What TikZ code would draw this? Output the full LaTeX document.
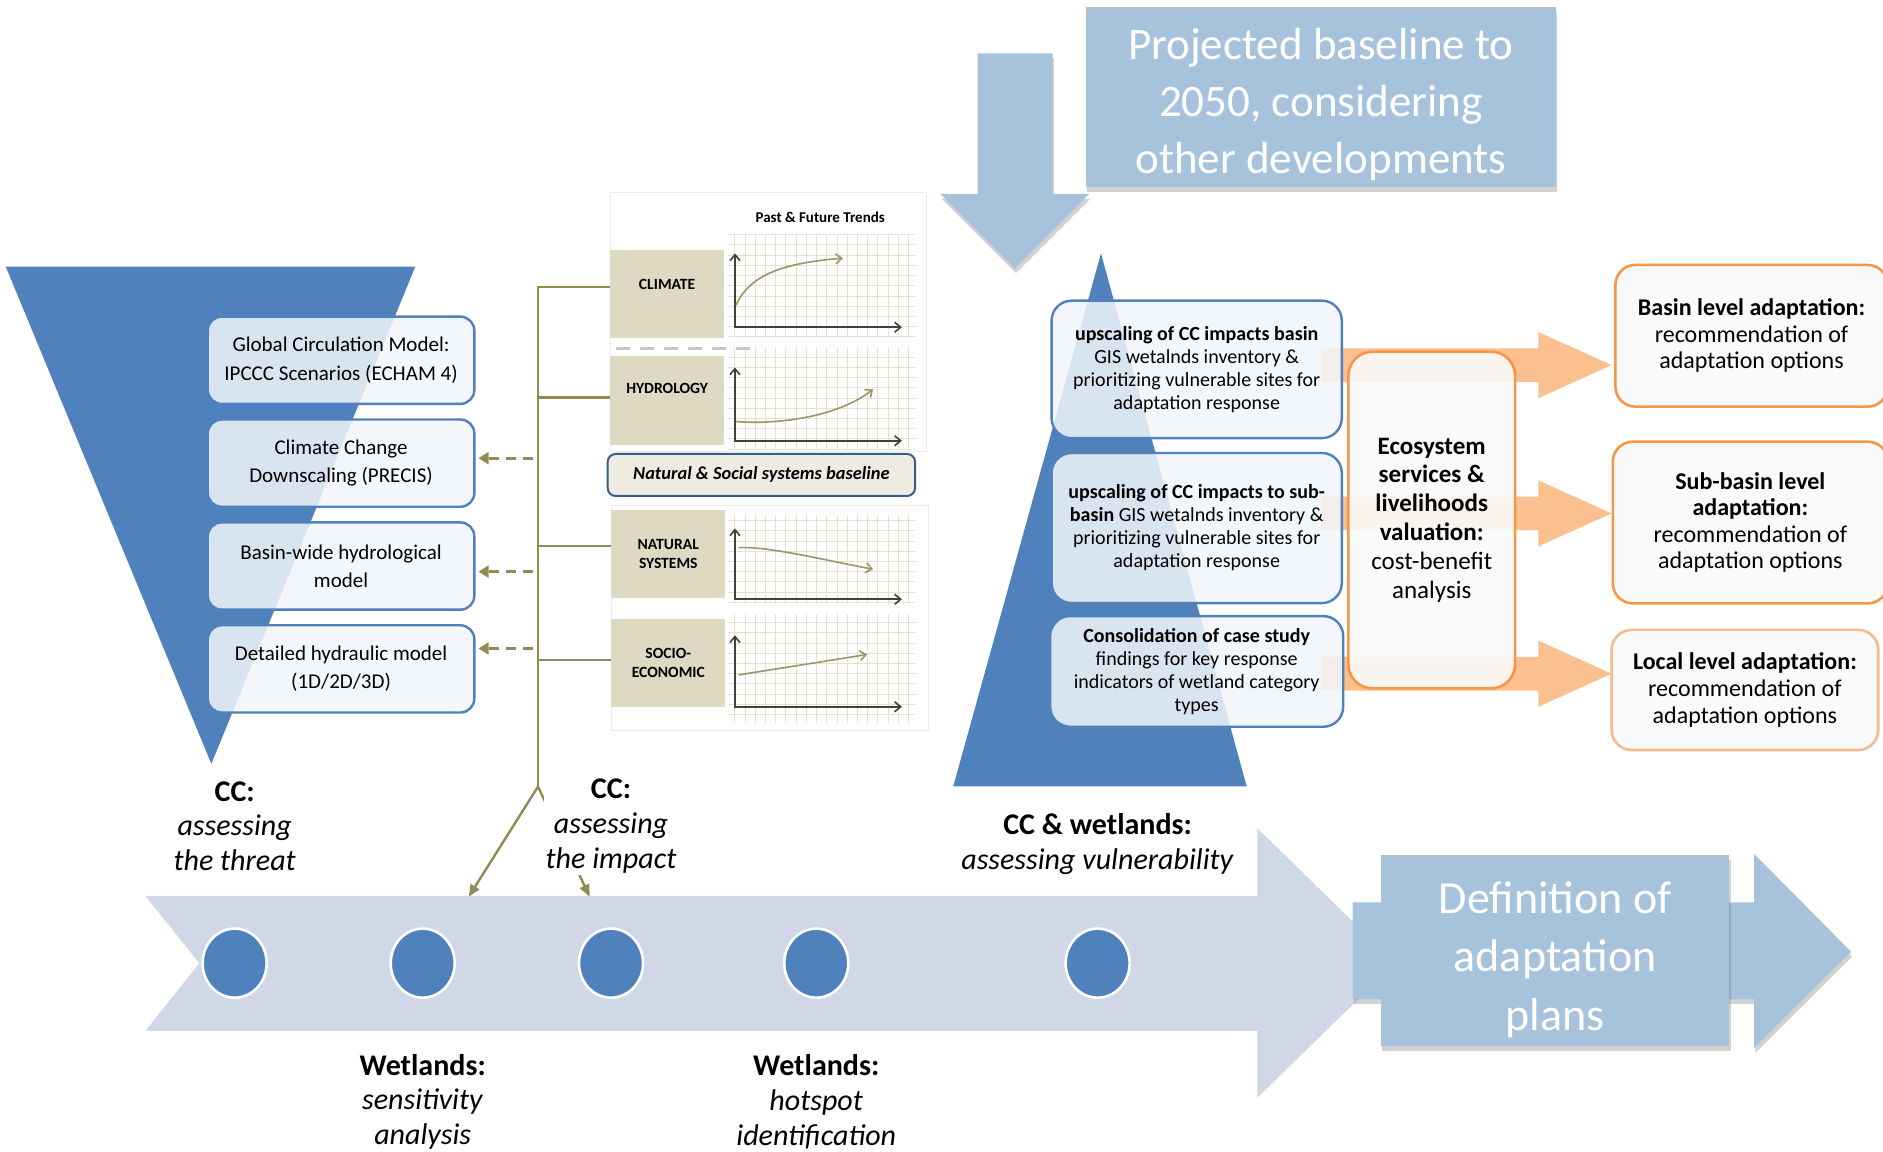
\documentclass[tikz,border=0pt]{standalone}
\usepackage{fontspec}
\setmainfont{Carlito}
\usetikzlibrary{arrows.meta,positioning,shadows,shapes.geometric}

\definecolor{pyramidblue}{HTML}{4F81BD}
\definecolor{arrowblue}{HTML}{A7C3DC}
\definecolor{timelineblue}{HTML}{D0D8E8}
\definecolor{boxtint}{HTML}{F2F6FB}
\definecolor{trendolive}{HTML}{948A54}
\definecolor{curveolive}{HTML}{9C9566}
\definecolor{valueorange}{HTML}{F79646}
\definecolor{lightorange}{HTML}{FAC090}
\definecolor{paleorange}{HTML}{F9B98A}
\definecolor{labelbeige}{HTML}{DDD9C3}
\definecolor{gridbeige}{HTML}{E6E1CF}
\definecolor{bannerbeige}{HTML}{EEECE1}
\definecolor{bannerblue}{HTML}{385D8A}

\begin{document}
\begin{tikzpicture}[x=0.6pt,y=-0.6pt]
\tikzstyle{model} = [draw=pyramidblue, line width=1.2pt, rounded corners=7pt, fill=boxtint, fill opacity=0.85, text opacity=1, minimum width=133.2pt, minimum height=43.6pt, align=center, font=\fontsize{10.5}{14.2}\selectfont]
\tikzstyle{upscale} = [model, minimum width=145pt, rounded corners=10pt, font=\fontsize{10}{11.5}\selectfont]
\tikzstyle{valuation} = [draw=valueorange, line width=1.3pt, rounded corners=12pt, fill=white!98!black, fill opacity=0.9, text opacity=1, align=center, font=\fontsize{12.5}{14.4}\selectfont]
\tikzstyle{adapt} = [valuation, rounded corners=10pt, font=\fontsize{12}{13.3}\selectfont]
\tikzstyle{trendlabel} = [fill=labelbeige, minimum width=57pt, minimum height=44pt, align=center, font=\fontsize{7.8}{9.6}\selectfont\bfseries]
\tikzstyle{stage} = [fill=white, inner sep=1pt, align=center, font=\fontsize{15}{17.4}\selectfont]
\tikzstyle{stagedot} = [ellipse, fill=pyramidblue, draw=white, line width=1.3pt, minimum width=32pt, minimum height=34.5pt]
\tikzstyle{banner} = [fill=arrowblue, drop shadow={shadow xshift=0.6pt, shadow yshift=-2.4pt, opacity=0.35}]
\tikzstyle{bannertext} = [text=white, align=center]
\tikzstyle{trend} = [trendolive, line width=1.2pt]
\tikzstyle{feedback} = [trend, line width=1.4pt, dash pattern=on 5pt off 3.5pt, shorten >=1.5pt, -{Triangle[length=5pt,width=6pt]}]
\tikzstyle{axis} = [black!75, line width=0.8pt, {Straight Barb[length=3pt,width=5pt]}-{Straight Barb[length=3pt,width=5pt]}]
\tikzstyle{curve} = [curveolive, line width=0.8pt, -{Straight Barb[length=3pt,width=5pt]}]

\useasboundingbox (0,0) rectangle (1568,959);
\fill[white] (0,0) rectangle (1568,959);

\fill[pyramidblue] (4.8,222) -- (345.8,222) -- (176,636) -- cycle;

\filldraw[draw=black!8, fill=white] (508,160) rectangle (771,376);
\filldraw[draw=black!8, fill=white] (509,420.5) rectangle (773,608);
\foreach \gtop/\gbot in {194.5/281, 290/374, 429/503, 511/602}
  \draw[gridbeige, line width=0.5pt, step=5.1pt] (606,\gbot) grid (762,\gtop);

\node[font=\fontsize{7.5}{9}\selectfont\bfseries] (trendtitle) at (683,181) {Past \& Future Trends};
\node[trendlabel, text depth=9pt] (clim) at (555.5,244.5) {CLIMATE};
\node[trendlabel, text depth=12pt] (hydro) at (555.5,333.5) {HYDROLOGY};
\node[trendlabel] (natsys) at (556.5,461) {NATURAL\\SYSTEMS};
\node[trendlabel] (socio) at (556.5,552) {SOCIO-\\ECONOMIC};
\draw[black!22, line width=1.6pt, dash pattern=on 7pt off 5pt] (513,290) -- (627,290);

\foreach \axtop/\axbot in {211/272.5, 306/367, 440/499, 529/588.5}
  \draw[axis] (612,\axtop) -- (612,\axbot) -- (751,\axbot);
\draw[curve] (613,254) .. controls (624,229) and (652,219) .. (702,215);
\draw[curve] (613,351) .. controls (650,354) and (700,346) .. (727,324);
\draw[curve] (615,456) .. controls (640,455) and (680,465) .. (727,474);
\draw[curve] (615,562) -- (722,545);

\node[draw=bannerblue, line width=1pt, fill=bannerbeige, rounded corners=4pt, minimum width=153.6pt, minimum height=21pt, font=\fontsize{9.2}{11}\selectfont\bfseries\itshape] (baseline) at (634,395.5) {Natural \& Social systems baseline};

\node[model] (gcm) at (284,300) {Global Circulation Model:\\IPCCC Scenarios (ECHAM 4)};
\node[model, below=6.6pt of gcm] (downscale) {Climate Change\\Downscaling (PRECIS)};
\node[model, below=6.6pt of downscale] (hydromodel) {Basin-wide hydrological\\model};
\node[model, below=6.6pt of hydromodel] (hydraulic) {Detailed hydraulic model\\(1D/2D/3D)};

\coordinate (trunktop) at (448,239);
\coordinate (fork) at (448,655);
\coordinate (bhydro) at (448,331);
\coordinate (bnatsys) at (448,454.7);
\coordinate (bsocio) at (448,549.6);
\draw[trend] (trunktop -| clim.west) -- (trunktop) -- (fork);
\draw[trend] (bhydro) -- (bhydro -| hydro.west);
\draw[trend] (bnatsys) -- (bnatsys -| natsys.west);
\draw[trend] (bsocio) -- (bsocio -| socio.west);

\coordinate (fdown) at (444,381.5);
\coordinate (fhydro) at (444,476);
\coordinate (fhydraulic) at (444,540);
\draw[feedback] (fdown) -- (fdown -| downscale.east);
\draw[feedback] (fhydro) -- (fhydro -| hydromodel.east);
\draw[feedback] (fhydraulic) -- (fhydraulic -| hydraulic.east);

\fill[timelineblue] (121,746) -- (1047,746) -- (1047,689.7) -- (1162,802) -- (1047,914) -- (1047,858.5) -- (121,858.5) -- (166,802) -- cycle;
\foreach \dx [count=\di] in {195.4,352,508.8,679.7,914}
  \node[stagedot] (dot\di) at (\dx,802) {};

\coordinate (sens) at (390.3,746.7);
\coordinate (imp) at (491,746.7);
\draw[trend, -{Triangle[length=6pt,width=5pt]}] (fork) -- (sens);
\draw[trend, -{Triangle[length=6pt,width=5pt]}] (fork) -- (imp);

\node[stage] (threat) at (195.4,688) {\textbf{CC:}\\\textit{assessing}\\\textit{the threat}};
\node[stage] (impact) at (508.8,688) {\textbf{CC:}\\\textit{assessing}\\\textit{the impact}};
\node[stage] (vulner) at (914,702.5) {\textbf{CC \& wetlands:}\\\textit{assessing vulnerability}};
\node[stage] (sensit) at (352,917.5) {\textbf{Wetlands:}\\\textit{sensitivity}\\\textit{analysis}};
\node[stage] (hotspot) at (679.7,917.5) {\textbf{Wetlands:}\\\textit{hotspot}\\\textit{identification}};

\fill[pyramidblue] (916.8,211) -- (1038.1,654.8) -- (793.8,654.8) -- cycle;
\foreach \ay in {304,427.5,561}
  \fill[lightorange] (1100,\ay-14) -- (1281,\ay-14) -- (1281,\ay-27.5) -- (1342,\ay) -- (1281,\ay+27.5) -- (1281,\ay+14) -- (1100,\ay+14) -- cycle;

\node[upscale, minimum height=68.7pt] (mbbasin) at (996.5,307.6) {\textbf{upscaling of CC impacts basin}\\GIS wetalnds inventory \&\\prioritizing vulnerable sites for\\adaptation response};
\node[upscale, minimum height=75pt, below=6.2pt of mbbasin] (mbsub) {\textbf{upscaling of CC impacts to sub-}\\\textbf{basin} GIS wetalnds inventory \&\\prioritizing vulnerable sites for\\adaptation response};
\node[upscale, minimum width=146.4pt, minimum height=55.3pt, below=5.3pt of mbsub] (mbcase) {\textbf{Consolidation of case study}\\findings for key response\\indicators of wetland category\\types};

\node[valuation, minimum width=83.3pt, minimum height=168.2pt] (ecoval) at (1192.2,433) {\textbf{Ecosystem}\\\textbf{services \&}\\\textbf{livelihoods}\\\textbf{valuation:}\\cost-benefit\\analysis};

\node[adapt, minimum width=136pt, minimum height=70.8pt] (rbbasin) at (1458.5,279.6) {\textbf{Basin level adaptation:}\\recommendation of\\adaptation options};
\node[adapt, minimum width=137.4pt, minimum height=80.8pt] (rbsub) at (1457.5,435.1) {\textbf{Sub-basin level}\\\textbf{adaptation:}\\recommendation of\\adaptation options};
\node[adapt, draw=paleorange, minimum width=133.2pt, minimum height=60pt] (rblocal) at (1453,574.5) {\textbf{Local level adaptation:}\\recommendation of\\adaptation options};

\fill[arrowblue, drop shadow={shadow xshift=0.6pt, shadow yshift=-2.4pt, opacity=0.35}] (814,44.4) -- (876.5,44.4) -- (876.5,161.5) -- (907,161.5) -- (845,223.4) -- (783,161.5) -- (814,161.5) -- cycle;
\node[banner, minimum width=234.5pt, minimum height=90pt] (projected) at (1099.9,80.6) {};
\node[bannertext, font=\fontsize{22.5}{28.4}\selectfont] (projectedtext) at ([yshift=-3.8pt]projected.center) {Projected baseline to\\2050, considering\\other developments};

\fill[arrowblue, drop shadow={shadow xshift=0.6pt, shadow yshift=-2.4pt, opacity=0.35}] (1126.4,751.4) -- (1460.6,751.4) -- (1460.6,711) -- (1541.4,792.5) -- (1460.6,872.8) -- (1460.6,832) -- (1126.4,832) -- cycle;
\node[banner, minimum width=174pt, minimum height=95.3pt] (definition) at (1295,791.4) {};
\node[bannertext, font=\fontsize{23}{29.2}\selectfont] (definitiontext) at ([yshift=-4.5pt]definition.center) {Definition of\\adaptation\\plans};
\end{tikzpicture}
\end{document}
